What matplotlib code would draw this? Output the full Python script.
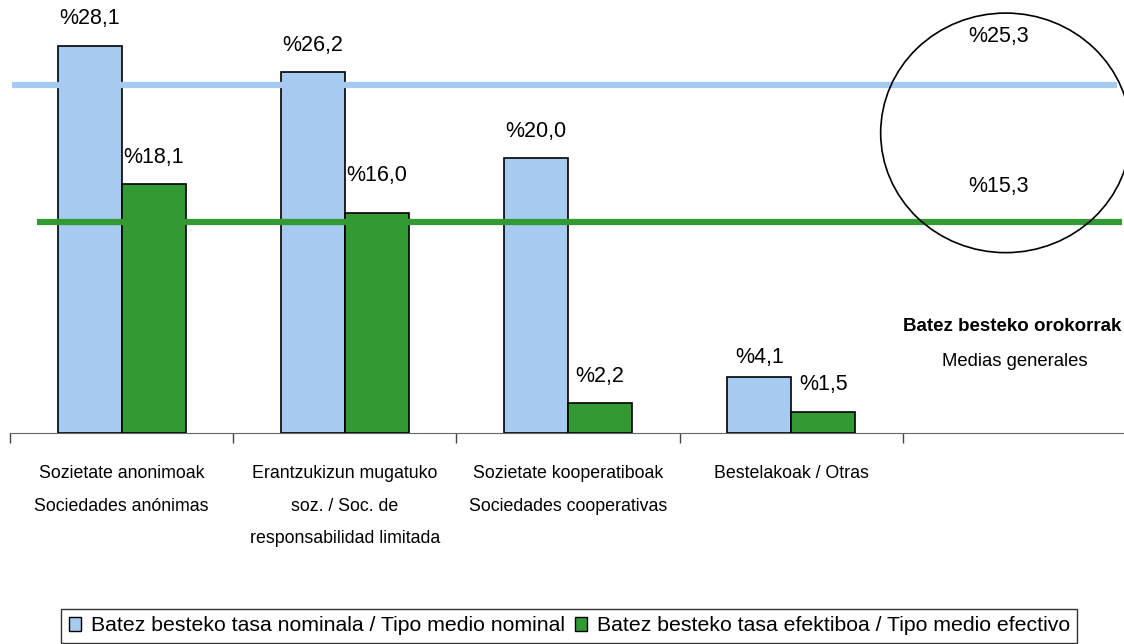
import matplotlib
matplotlib.use("Agg")
import numpy as np
import matplotlib.pyplot as plt
from matplotlib.patches import Ellipse, Patch

categories = [
    "Sozietate anonimoak\nSociedades anónimas",
    "Erantzukizun mugatuko\nsoz. / Soc. de\nresponsabilidad limitada",
    "Sozietate kooperatiboak\nSociedades cooperativas",
    "Bestelakoak / Otras",
]
nominal = [28.1, 26.2, 20.0, 4.1]
effective = [18.1, 16.0, 2.2, 1.5]
avg_nominal = 25.3
avg_effective = 15.3
series_labels = [
    "Batez besteko tasa nominala / Tipo medio nominal",
    "Batez besteko tasa efektiboa / Tipo medio efectivo",
]

blue = "#A6CAF0"
green = "#339933"

# label offsets above the bars (points), nudged like the original
nominal_off = [20, 19, 19, 14]
effective_off = [19, 27, 19, 20]

plt.rcParams["font.family"] = ["Liberation Sans", "DejaVu Sans"]


def pct(v):
    return "%" + f"{v:.1f}".replace(".", ",")


fig = plt.figure(figsize=(11.24, 6.44), dpi=100)
ax = fig.add_axes([10 / 1124, 1 - 433 / 644, 1 - 10 / 1124, 433 / 644])

x = np.arange(len(categories))
w = 0.287
ax.bar(x - w / 2, nominal, w, color=blue, edgecolor="black", linewidth=1.2, zorder=2)
ax.bar(x + w / 2, effective, w, color=green, edgecolor="black", linewidth=1.2, zorder=2)

# average lines across the whole plot
ax.hlines(avg_nominal, -0.49, 4.46, color=blue, linewidth=4.5, zorder=3)
ax.hlines(avg_effective, -0.38, 4.48, color=green, linewidth=4.5, zorder=3)

for xi, v, off in zip(x - w / 2, nominal, nominal_off):
    ax.annotate(pct(v), (xi, v), xytext=(0, off), textcoords="offset points",
                ha="center", va="center", fontsize=15.5)
for xi, v, off in zip(x + w / 2, effective, effective_off):
    ax.annotate(pct(v), (xi, v), xytext=(0, off), textcoords="offset points",
                ha="center", va="center", fontsize=15.5)

# general averages slot
ax.add_patch(Ellipse((3.96, 21.8), 1.12, 17.4, fill=False, edgecolor="black",
                     linewidth=1.2, zorder=4))
ax.text(3.93, 28.8, pct(avg_nominal), ha="center", va="center", fontsize=15.5)
ax.text(3.93, 17.9, pct(avg_effective), ha="center", va="center", fontsize=15.5)
ax.text(3.99, 7.7, "Batez besteko orokorrak", ha="center", va="center",
        fontsize=13.5, fontweight="bold")
ax.text(4.0, 5.2, "Medias generales", ha="center", va="center", fontsize=13.3)

ax.set_xlim(-0.5, 4.49)
ax.set_ylim(0, 31.45)
ax.set_xticks(np.arange(-0.5, 4.0, 1.0))
ax.set_xticklabels([])
ax.set_xticks(x, minor=True)
ax.set_xticklabels(categories, minor=True, fontsize=12.8, linespacing=2.2, va="top")
ax.tick_params(axis="x", which="major", length=7, width=1, color="#444444",
               direction="out")
ax.tick_params(axis="x", which="minor", length=0, pad=23)
ax.set_yticks([])
for s in ["top", "right", "left"]:
    ax.spines[s].set_visible(False)
ax.spines["bottom"].set_color("#666666")

handles = [Patch(facecolor=blue, edgecolor="black"),
           Patch(facecolor=green, edgecolor="black")]
leg = fig.legend(handles, series_labels, loc="upper center",
                 bbox_to_anchor=(0.5065, 1 - 609 / 644),
                 ncol=2, fontsize=15.3, frameon=True, fancybox=False,
                 handlelength=0.6, handleheight=0.6, handletextpad=0.45,
                 columnspacing=0.45, borderpad=0.35, borderaxespad=0)
leg.get_frame().set_edgecolor("black")
leg.get_frame().set_linewidth(1.0)

fig.savefig("out.png", dpi=100)
